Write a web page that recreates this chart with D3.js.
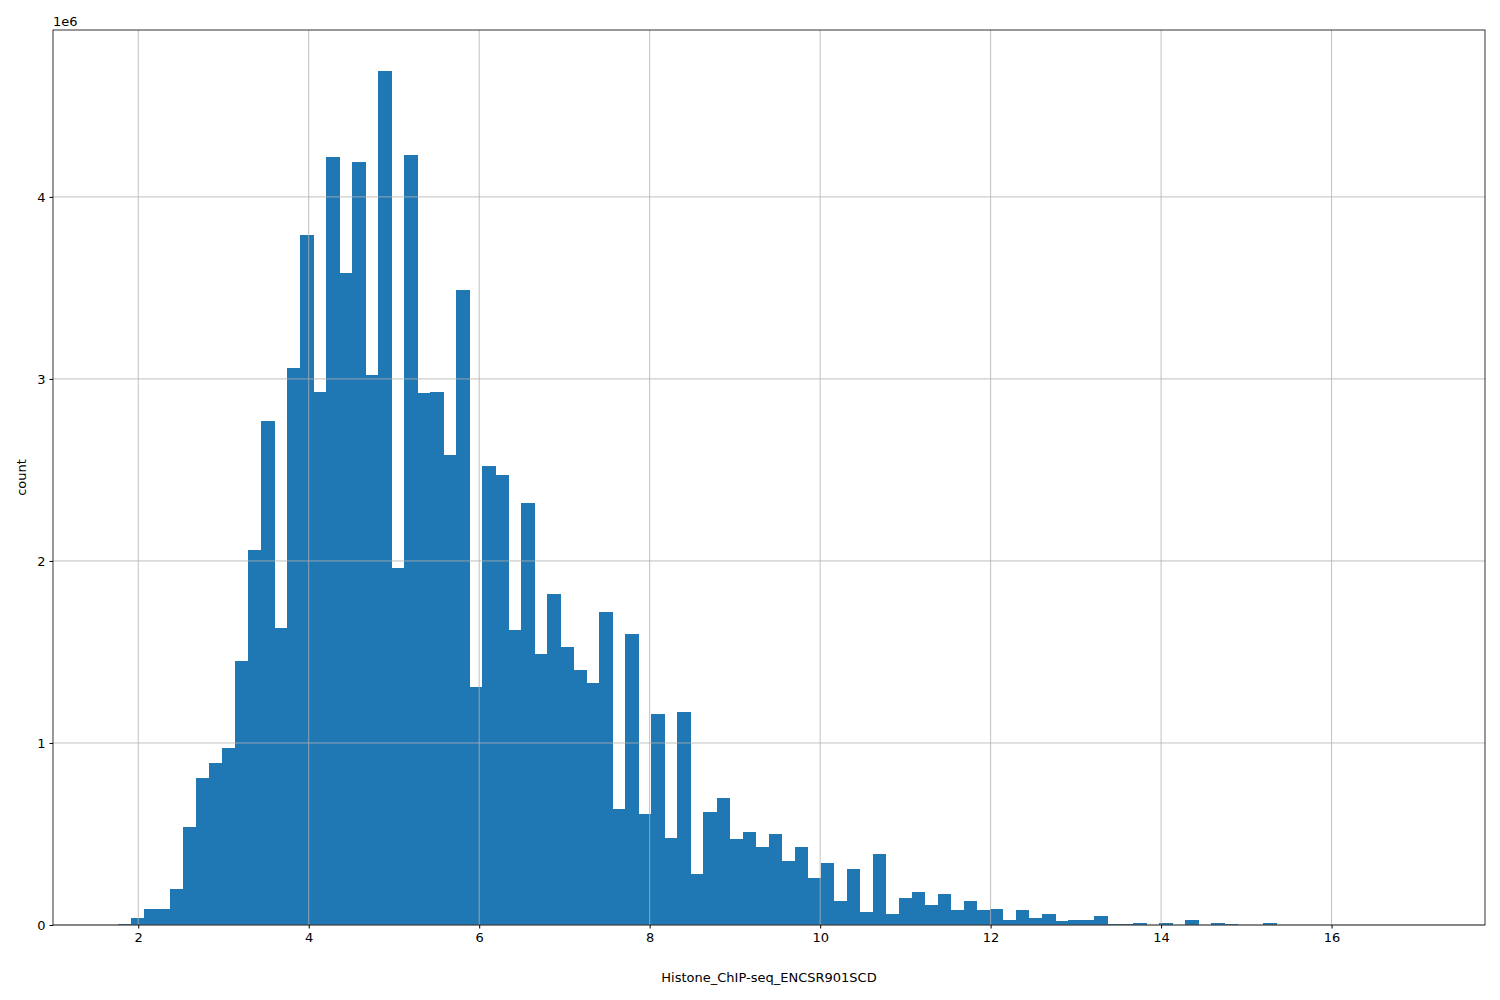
<!DOCTYPE html>
<html>
<head>
<meta charset="utf-8">
<script src="https://cdn.jsdelivr.net/npm/d3@7"></script>
<style>
body{margin:0;background:#fff;}
text{font-family:"DejaVu Sans",sans-serif;font-size:13px;fill:#000;}
</style>
</head>
<body>
<svg id="chart" width="1500" height="1000"></svg>
<script>
// histogram bins: start, width, counts (millions)
const binStart=1.76;
const binWidth=0.1527;
const counts=[0.005,0.04,0.09,0.09,0.2,0.54,0.81,0.89,0.97,1.45,
  2.06,2.77,1.63,3.06,3.79,2.93,4.22,3.58,4.19,3.02,
  4.69,1.96,4.23,2.92,2.93,2.58,3.49,1.31,2.52,2.47,
  1.62,2.32,1.49,1.82,1.53,1.40,1.33,1.72,0.64,1.60,
  0.61,1.16,0.48,1.17,0.28,0.62,0.70,0.47,0.51,0.43,
  0.50,0.35,0.43,0.26,0.34,0.13,0.31,0.07,0.39,0.06,
  0.15,0.18,0.11,0.17,0.08,0.13,0.08,0.09,0.03,0.08,
  0.04,0.06,0.02,0.03,0.03,0.05,0.005,0.005,0.01,0,
  0.01,0,0.03,0,0.01,0.005,0,0,0.01,0,
  0,0,0,0,0,0,0,0,0,0.001];
const xTicks=[2,4,6,8,10,12,14,16];
const yTicks=[0,1,2,3,4];
const xLabel="Histone_ChIP-seq_ENCSR901SCD";
const yLabel="count";

const mLeft=53,mRight=1485,mTop=30,mBottom=925;
const svg=d3.select("#chart");
const x=d3.scaleLinear().domain([1.0,17.8]).range([mLeft,mRight]);
const y=d3.scaleLinear().domain([0,4.917]).range([mBottom,mTop]);

svg.append("g").attr("shape-rendering","crispEdges").selectAll("rect")
  .data(counts)
  .enter()
    .append("rect")
    .attr("x",(d,i)=>x(binStart+i*binWidth))
    .attr("width",(d,i)=>x(binStart+(i+1)*binWidth)-x(binStart+i*binWidth)+0.6)
    .attr("y",(d)=>y(d))
    .attr("height",(d)=>mBottom-y(d))
    .attr("fill","#1f77b4");

// grid on top of bars
const grid=svg.append("g").attr("stroke","#b0b0b0").attr("stroke-width",0.8);
xTicks.forEach((t)=>grid.append("line").attr("x1",x(t)).attr("x2",x(t)).attr("y1",mTop).attr("y2",mBottom));
yTicks.forEach((t)=>grid.append("line").attr("x1",mLeft).attr("x2",mRight).attr("y1",y(t)).attr("y2",y(t)));

const xAxis=svg.append("g").attr("transform",`translate(0,${mBottom})`)
  .call(d3.axisBottom(x).tickValues(xTicks).tickSize(3.5).tickPadding(4).tickFormat(d3.format("d")));
const yAxis=svg.append("g").attr("transform",`translate(${mLeft},0)`)
  .call(d3.axisLeft(y).tickValues(yTicks).tickSize(3.5).tickPadding(4).tickFormat(d3.format("d")));
[xAxis,yAxis].forEach((a)=>{
  a.select(".domain").remove();
  a.selectAll("text").style("font-size","13px").style("font-family","DejaVu Sans");
});

svg.append("rect").attr("x",mLeft).attr("y",mTop).attr("width",mRight-mLeft).attr("height",mBottom-mTop)
  .attr("fill","none").attr("stroke","#000").attr("stroke-width",0.8);

svg.append("text").attr("x",mLeft).attr("y",mTop-4).text("1e6");
svg.append("text").attr("x",(mLeft+mRight)/2).attr("y",982).attr("text-anchor","middle").text(xLabel);
svg.append("text").attr("transform",`translate(26,${(mTop+mBottom)/2}) rotate(-90)`).attr("text-anchor","middle").text(yLabel);
</script>
</body>
</html>
